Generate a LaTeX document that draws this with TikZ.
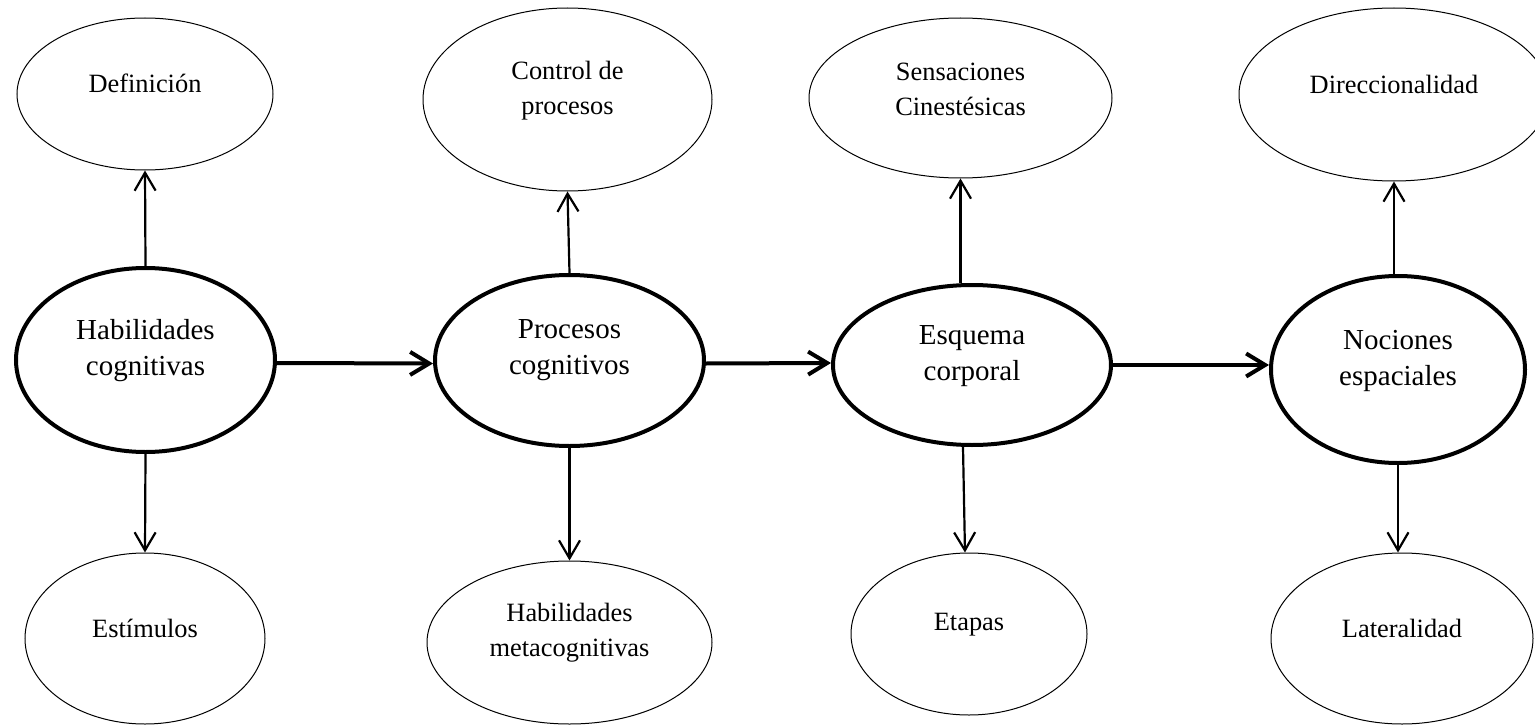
\documentclass[tikz,border=0pt]{standalone}
\usepackage{fontspec}
\setmainfont{Liberation Serif}
\usetikzlibrary{arrows.meta,shapes.geometric}
\begin{document}
\begin{tikzpicture}[x=1pt,y=-1pt,
  thinell/.style={draw=black, line width=1pt, ellipse, inner sep=0pt},
  thickell/.style={draw=black, line width=4pt, ellipse, inner sep=0pt},
  smalltxt/.style={align=center, font=\fontsize{26.4pt}{35pt}\selectfont, inner sep=0pt},
  bigtxt/.style={align=center, font=\fontsize{29pt}{36pt}\selectfont, inner sep=0pt},
  varrow/.style={line width=2.2pt, -{Straight Barb[length=18pt,width=21pt]}},
  harrow/.style={line width=4pt, -{Straight Barb[length=19pt,width=23pt]}},
]
\useasboundingbox (0,0) rectangle (1535,725);
\clip (0,0) rectangle (1535,725);

% top row
\node[thinell, minimum width=256pt, minimum height=152pt] (def) at (145,94) {};
\node[smalltxt] (deft) at ([yshift=11pt]def.center) {Definición};
\node[thinell, minimum width=289pt, minimum height=183pt] (ctl) at (567.5,99.5) {};
\node[smalltxt] (ctlt) at ([yshift=9pt]ctl.center) {Control de\\procesos};
\node[thinell, minimum width=303pt, minimum height=160pt] (sen) at (960.5,98) {};
\node[smalltxt] (sent) at ([yshift=9pt]sen.center) {Sensaciones\\Cinestésicas};
\node[thinell, minimum width=310pt, minimum height=173pt] (dir) at (1394,94.5) {};
\node[smalltxt] (dirt) at ([yshift=10pt]dir.center) {Direccionalidad};

% middle row
\node[thickell, minimum width=259pt, minimum height=184pt] (hc) at (145.5,360) {};
\node[bigtxt] (hct) at ([yshift=9pt]hc.center) {Habilidades\\cognitivas};
\node[thickell, minimum width=269pt, minimum height=171pt] (pc) at (569.5,360.5) {};
\node[bigtxt] (pct) at ([yshift=10pt]pc.center) {Procesos\\cognitivos};
\node[thickell, minimum width=278pt, minimum height=160pt] (ec) at (972,365) {};
\node[bigtxt] (ect) at ([yshift=9pt]ec.center) {Esquema\\corporal};
\node[thickell, minimum width=254pt, minimum height=187pt] (ne) at (1398,369.5) {};
\node[bigtxt] (net) at ([yshift=9pt]ne.center) {Nociones\\espaciales};

% bottom row
\node[thinell, minimum width=240pt, minimum height=171pt] (est) at (145,638.5) {};
\node[smalltxt] (estt) at ([yshift=10pt]est.center) {Estímulos};
\node[thinell, minimum width=285pt, minimum height=163pt] (hm) at (569.5,642.5) {};
\node[smalltxt] (hmt) at ([yshift=10pt]hm.center) {Habilidades\\metacognitivas};
\node[thinell, minimum width=236pt, minimum height=162pt] (eta) at (969,634) {};
\node[smalltxt] (etat) at ([yshift=9pt]eta.center) {Etapas};
\node[thinell, minimum width=262pt, minimum height=171pt] (lat) at (1402,638.5) {};
\node[smalltxt] (latt) at ([yshift=10pt]lat.center) {Lateralidad};

% vertical arrows
\draw[varrow] (hc.north) -- (def.south);
\draw[varrow] (pc.north) -- (ctl.south);
\draw[varrow] (ec.north -| sen.south) -- (sen.south);
\draw[varrow] (ne.north -| dir.south) -- (dir.south);
\draw[varrow] (hc.south) -- (est.north);
\draw[varrow] (pc.south) -- (hm.north);
\draw[varrow] ([xshift=-9pt]ec.south) -- ([xshift=-4pt]eta.north);
\draw[varrow] (ne.south) -- (ne.south |- lat.north);

% horizontal arrows
\draw[harrow] ([yshift=-3pt]hc.east) -- ([yshift=-3pt]pc.west);
\draw[harrow] ([yshift=-3pt]pc.east) -- ([yshift=2pt]ec.west);
\draw[harrow] (ec.east) -- ([yshift=4.5pt]ne.west);
\end{tikzpicture}
\end{document}
